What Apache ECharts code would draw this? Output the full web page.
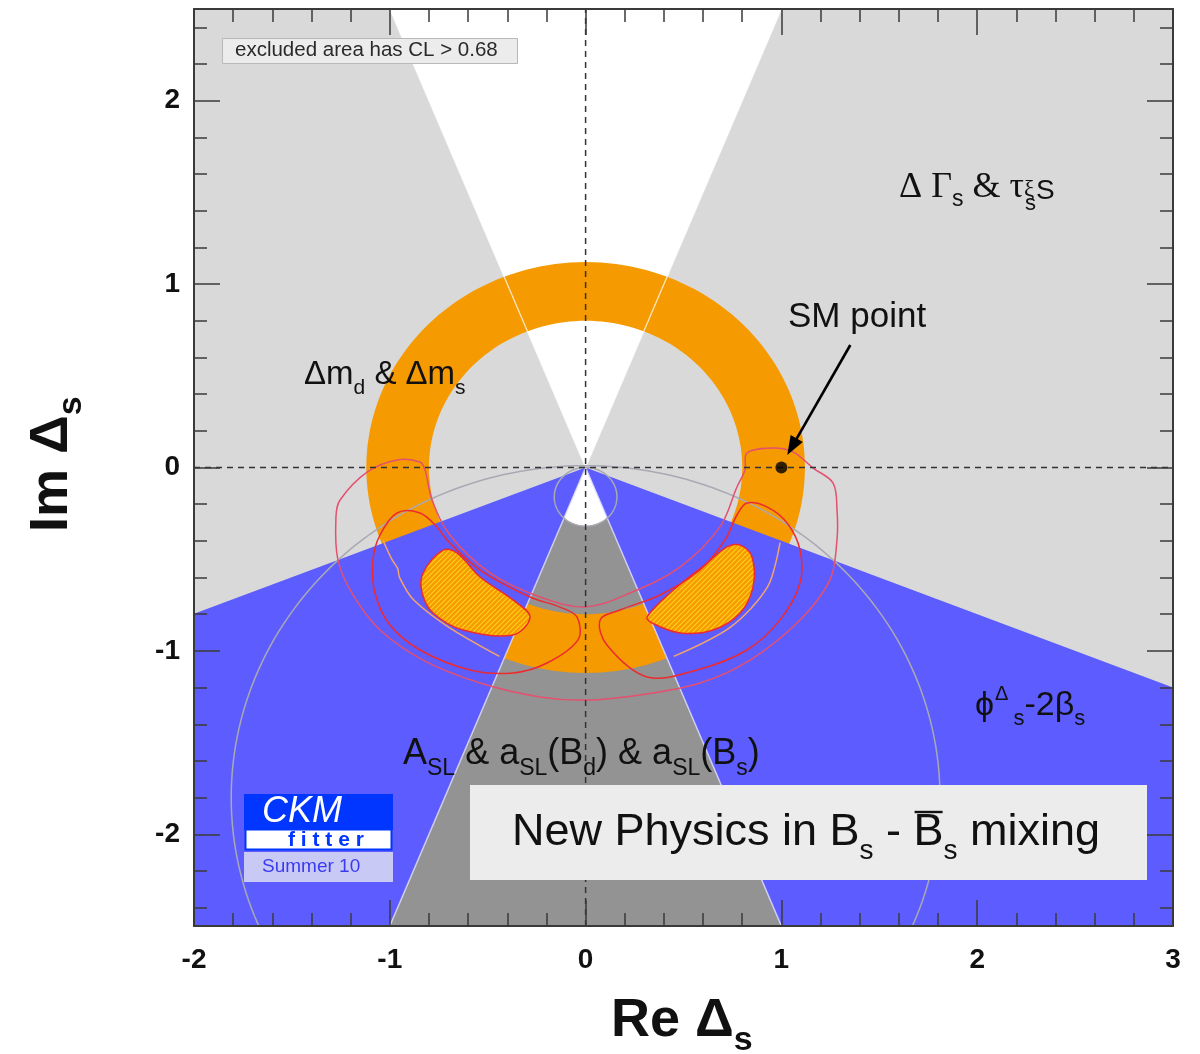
<!DOCTYPE html>
<html>
<head>
<meta charset="utf-8">
<script src="https://cdn.jsdelivr.net/npm/echarts@6/dist/echarts.min.js"></script>
<style>
  html, body { margin: 0; padding: 0; background: #ffffff; }
  #chart { width: 1200px; height: 1054px; }
</style>
</head>
<body>
<div id="chart"></div>
<script>
// ---- axes ----
const xRange = [-2, 3];
const yRange = [-2.5, 2.5];
const xTickLabels = ['-2', '-1', '0', '1', '2', '3'];
const yMajorTicks = [-2, -1, 0, 1, 2];
const yMinorTicks = [-2.4, -2.2, -1.8, -1.6, -1.4, -1.2, -0.8, -0.6, -0.4, -0.2,
  0.2, 0.4, 0.6, 0.8, 1.2, 1.4, 1.6, 1.8, 2.2, 2.4];

// ---- ΔΓs & τ : allowed double cone (white upper part, dark lower part) ----
const coneUpper = [[0, 0], [-1.0, 2.5], [1.0, 2.5]];
const coneLower = [[0, 0], [-1.0, -2.5], [1.0, -2.5]];
const coneLowerOpen = [[0, 0], [-0.108, -0.27], [-0.06, -0.305], [0, -0.318], [0.06, -0.305], [0.108, -0.27]];

// ---- φΔs - 2βs : excluded wedges ----
const phiLeft = [[0, 0], [-2, -0.797], [-2, -2.5], [-1.0, -2.5]];
const phiRight = [[0, 0], [1.0, -2.5], [3, -2.5], [3, -1.2]];

// ---- Δmd & Δms : allowed ring (center, inner / outer radius) ----
const ringCenter = [0, 0];
const ringRadii = [0.80, 1.12];

// ---- thin reference circles (center x, center y, radius) ----
const bigCircle = [0, -1.80, 1.81];
const smallCircle = [0, -0.16, 0.16];

// ---- combined fit : 68% CL islands ----
const islandLeft = [[-0.728, -0.450], [-0.830, -0.575], [-0.835, -0.684], [-0.779, -0.793], [-0.626, -0.886],
  [-0.371, -0.913], [-0.284, -0.815], [-0.371, -0.722], [-0.539, -0.597], [-0.657, -0.466]];
const islandRight = [[0.789, -0.423], [0.850, -0.488], [0.855, -0.652], [0.789, -0.793], [0.651, -0.886],
  [0.482, -0.902], [0.339, -0.848], [0.314, -0.815], [0.431, -0.684], [0.620, -0.521], [0.722, -0.433]];

// ---- combined fit : outer CL contours ----
const contourOuter = [[-0.963, 0.041], [-1.116, -0.025], [-1.254, -0.177], [-1.275, -0.270], [-1.265, -0.504],
  [-1.188, -0.695], [-1.050, -0.886], [-0.830, -1.050], [-0.539, -1.175], [-0.233, -1.251], [0, -1.268],
  [0.278, -1.240], [0.584, -1.175], [0.840, -1.050], [1.095, -0.831], [1.248, -0.613], [1.284, -0.393],
  [1.284, -0.232], [1.264, -0.085], [1.162, -0.003], [1.059, 0.085], [0.957, 0.106], [0.824, 0.079],
  [0.814, -0.014], [0.773, -0.106], [0.686, -0.324], [0.482, -0.543], [0.227, -0.684], [0, -0.760],
  [-0.233, -0.706], [-0.488, -0.575], [-0.693, -0.368], [-0.784, -0.177], [-0.820, -0.014], [-0.846, 0.030]];
const contourLeft = [[-0.963, -0.248], [-0.846, -0.248], [-0.759, -0.324], [-0.708, -0.395], [-0.539, -0.559],
  [-0.284, -0.706], [-0.131, -0.761], [-0.044, -0.815], [-0.039, -0.940], [-0.197, -1.066], [-0.371, -1.120],
  [-0.590, -1.104], [-0.846, -0.995], [-0.999, -0.859], [-1.076, -0.684], [-1.086, -0.504], [-1.050, -0.368]];
const contourRight = [[0.824, -0.194], [0.926, -0.215], [1.029, -0.303], [1.095, -0.450], [1.095, -0.630],
  [0.993, -0.831], [0.824, -0.995], [0.569, -1.104], [0.314, -1.142], [0.109, -0.968], [0.074, -0.831],
  [0.176, -0.777], [0.380, -0.695], [0.584, -0.559], [0.712, -0.395], [0.773, -0.259]];
const traceLeft = [[-1.035, -0.395], [-0.99, -0.50], [-0.96, -0.55], [-0.95, -0.60], [-0.88, -0.72],
  [-0.70, -0.87], [-0.44, -1.03]];
const traceRight = [[0.993, -0.41], [0.93, -0.65], [0.74, -0.87], [0.45, -1.03]];

// ---- SM point ----
const smPoint = [[1, 0]];
const smArrow = [[1.352, 0.668], [1.030, 0.068]];

const C = {
  lightGray: '#d9d9d9',
  darkGray: '#939393',
  blue: '#5c5cff',
  orange: '#f59a00',
  hatch: '#ffd21a',
  pink: '#e4506e',
  red: '#ec2a30',
  peach: '#f2a46c',
  circle: '#a9a9b4',
  axis: '#3a3a3a',
  text: '#111111'
};

// diagonal hatching used on the 68% islands
function hatchPattern() {
  const c = document.createElement('canvas');
  c.width = 5; c.height = 5;
  const g = c.getContext('2d');
  g.fillStyle = C.orange; g.fillRect(0, 0, 5, 5);
  g.strokeStyle = C.hatch; g.lineWidth = 1.2;
  g.beginPath();
  g.moveTo(-1, 6); g.lineTo(6, -1);
  g.moveTo(-3.5, 3.5); g.lineTo(3.5, -3.5);
  g.moveTo(1.5, 8.5); g.lineTo(8.5, 1.5);
  g.stroke();
  return { image: c, repeat: 'repeat' };
}

function clipOf(params) {
  const cs = params.coordSys;
  return { type: 'rect', shape: { x: cs.x, y: cs.y, width: cs.width, height: cs.height } };
}

// filled / stroked polygon through the cartesian scales
function polygonSeries(pts, style, z, closed, smooth) {
  return {
    type: 'custom', coordinateSystem: 'cartesian2d', data: pts, z: z, silent: true,
    encode: { x: 0, y: 1 },
    renderItem: function (params, api) {
      if (params.dataIndex !== 0) return;
      const p = pts.map(function (d) { return api.coord(d); });
      return {
        type: closed === false ? 'polyline' : 'polygon',
        shape: { points: p, smooth: smooth || 0 },
        style: style, clipPath: clipOf(params)
      };
    }
  };
}

function ellipsePoints(api, cx, cy, r, n) {
  const out = [];
  for (let i = 0; i <= n; i++) {
    const a = 2 * Math.PI * i / n;
    out.push(api.coord([cx + r * Math.cos(a), cy + r * Math.sin(a)]));
  }
  return out;
}

function ringSeries(z) {
  return {
    type: 'custom', coordinateSystem: 'cartesian2d', data: [ringCenter], z: z, silent: true,
    renderItem: function (params, api) {
      const outer = ellipsePoints(api, ringCenter[0], ringCenter[1], ringRadii[1], 180);
      const inner = ellipsePoints(api, ringCenter[0], ringCenter[1], ringRadii[0], 180).reverse();
      const path = function (pp) {
        return 'M' + pp.map(function (q) { return q[0].toFixed(2) + ' ' + q[1].toFixed(2); }).join(' L') + ' Z ';
      };
      return {
        type: 'path', shape: { pathData: path(outer) + path(inner) },
        style: { fill: C.orange, stroke: null }, clipPath: clipOf(params)
      };
    }
  };
}

function circleSeries(circ, style, z) {
  return {
    type: 'custom', coordinateSystem: 'cartesian2d', data: [[circ[0], circ[1]]], z: z, silent: true,
    renderItem: function (params, api) {
      return {
        type: 'polyline', shape: { points: ellipsePoints(api, circ[0], circ[1], circ[2], 240) },
        style: style, clipPath: clipOf(params)
      };
    }
  };
}

function edgeSeries(a, b, style, z) {
  return polygonSeries([a, b], style, z, false, 0);
}

// arrow pointing at the SM point
function arrowSeries(z) {
  return {
    type: 'custom', coordinateSystem: 'cartesian2d', data: smArrow, z: z, silent: true,
    renderItem: function (params, api) {
      if (params.dataIndex !== 0) return;
      const a = api.coord(smArrow[0]), b = api.coord(smArrow[1]);
      const ang = Math.atan2(b[1] - a[1], b[0] - a[0]);
      const L = 19, W = 7;
      const base = [b[0] - L * Math.cos(ang), b[1] - L * Math.sin(ang)];
      const n = [-Math.sin(ang), Math.cos(ang)];
      return {
        type: 'group', children: [
          { type: 'line', shape: { x1: a[0], y1: a[1], x2: base[0] + 3 * Math.cos(ang), y2: base[1] + 3 * Math.sin(ang) },
            style: { stroke: '#000', lineWidth: 2.6 } },
          { type: 'polygon', shape: { points: [b, [base[0] + n[0] * W, base[1] + n[1] * W], [base[0] - n[0] * W, base[1] - n[1] * W]] },
            style: { fill: '#000' } }
        ]
      };
    }
  };
}

// ---- text runs (for sub/superscripts) ----
const measureCtx = document.createElement('canvas').getContext('2d');
function runs(x0, base, parts, common, z) {
  const els = [];
  let x = x0;
  parts.forEach(function (p) {
    const size = p.size || common.size;
    const fam = p.family || common.family;
    const wt = p.weight || common.weight || 'normal';
    const st = p.style || common.style || 'normal';
    const font = st + ' ' + wt + ' ' + size + 'px ' + fam;
    measureCtx.font = font;
    const w = measureCtx.measureText(p.t).width;
    els.push({
      type: 'text', x: x + (p.dx || 0), y: base + (p.dy || 0) - 0.36 * size, z: z || 100,
      style: { text: p.t, font: font, fill: p.color || common.color, align: 'left', verticalAlign: 'middle' }
    });
    if (!p.keep) x += w + (p.dx || 0);
  });
  return els;
}

const SANS = '"Liberation Sans", Arial, sans-serif';
const SERIF = '"Liberation Serif", "Times New Roman", serif';
const txt = { size: 34, family: SANS, color: C.text };

const graphics = [];
// legend note
graphics.push({ type: 'rect', z: 90, shape: { x: 222.5, y: 38.5, width: 295, height: 25 },
  style: { fill: '#ececec', stroke: '#b8b8b8', lineWidth: 1 } });
graphics.push(...runs(235, 58, [{ t: 'excluded area has CL > 0.68' }], { size: 20.5, family: SANS, color: '#2a2a2a' }));

// constraint labels
graphics.push(...runs(899, 201, [
  { t: 'Δ Γ', size: 36, family: SERIF },
  { t: 's', size: 23, dy: 7 },
  { t: ' & τ', size: 36, family: SERIF },
  { t: 'ξ', size: 23, dy: -3, family: SERIF, keep: true },
  { t: 's', size: 22, dy: 11, dx: 1 },
  { t: 'S', size: 28, dx: 0 }
], txt));
graphics.push(...runs(788, 330, [{ t: 'SM point', size: 35 }], txt));
graphics.push(...runs(304, 387, [
  { t: 'Δm', size: 33 }, { t: 'd', size: 21, dy: 9 }, { t: ' & Δm', size: 33 }, { t: 's', size: 21, dy: 9 }
], txt));
graphics.push(...runs(975, 718, [
  { t: 'ϕ' }, { t: 'Δ', size: 20, dy: -16, dx: 1 }, { t: ' ', size: 18 }, { t: 's', size: 22, dy: 9 },
  { t: '-2β' }, { t: 's', size: 22, dy: 9 }
], txt));
graphics.push(...runs(403, 767, [
  { t: 'A', size: 36 }, { t: 'SL', size: 23, dy: 10 }, { t: ' & a', size: 36 }, { t: 'SL', size: 23, dy: 10 },
  { t: '(B', size: 36 }, { t: 'd', size: 23, dy: 10 }, { t: ') & a', size: 36 }, { t: 'SL', size: 23, dy: 10 },
  { t: '(B', size: 36 }, { t: 's', size: 23, dy: 10 }, { t: ')', size: 36 }
], txt));

// title box
graphics.push({ type: 'rect', z: 90, shape: { x: 470, y: 785, width: 677, height: 95 },
  style: { fill: '#ececec', stroke: null } });
(function () {
  const parts = [
    { t: 'New Physics in B', size: 45 }, { t: 's', size: 28, dy: 12 }, { t: ' - B', size: 45 },
    { t: 's', size: 28, dy: 12 }, { t: ' mixing', size: 45 }
  ];
  const els = runs(512, 849, parts, txt, 95);
  graphics.push(...els);
  // bar over the second B
  measureCtx.font = 'normal normal 45px ' + SANS;
  const bx = els[2].x + measureCtx.measureText(' - ').width;
  const bw = measureCtx.measureText('B').width;
  graphics.push({ type: 'line', z: 95, shape: { x1: bx + 1, y1: 812, x2: bx + bw - 1, y2: 812 },
    style: { stroke: C.text, lineWidth: 2.4 } });
})();

// logo
graphics.push({ type: 'rect', z: 90, shape: { x: 244, y: 794, width: 149, height: 36 }, style: { fill: '#0036ff' } });
graphics.push({ type: 'rect', z: 90, shape: { x: 245.5, y: 829.5, width: 146, height: 20 },
  style: { fill: '#ffffff', stroke: '#0036ff', lineWidth: 2 } });
graphics.push({ type: 'rect', z: 90, shape: { x: 244, y: 852, width: 149, height: 30 }, style: { fill: '#c9c9f6' } });
graphics.push(...runs(262, 825, [{ t: 'CKM', size: 36, style: 'italic' }], { family: SANS, color: '#ffffff' }, 95));
graphics.push(...runs(288, 848, [{ t: 'f i t t e r', size: 21, weight: 'bold' }], { family: SANS, color: '#0036ff' }, 95));
graphics.push(...runs(262, 874, [{ t: 'Summer 10', size: 19 }], { family: SANS, color: '#3a3af0' }, 95));

// axis titles
graphics.push(...runs(611, 1041, [
  { t: 'Re Δ', size: 54, weight: 'bold' }, { t: 's', size: 34, weight: 'bold', dy: 12 }
], { family: SANS, color: C.text }));
graphics.push({
  type: 'group', x: 72, y: 532, rotation: Math.PI / 2,
  children: runs(0, 0, [
    { t: 'Im Δ', size: 54, weight: 'bold' }, { t: 's', size: 34, weight: 'bold', dy: 12 }
  ], { family: SANS, color: C.text })
});

const tickStyle = { color: C.axis, width: 1.5 };
const labelStyle = { fontSize: 28, fontWeight: 'bold', fontFamily: SANS, color: C.text };
const AXIS_Z = 30;

function xAxisDef(pos, labels) {
  return {
    type: 'value', position: pos, min: xRange[0], max: xRange[1], interval: 1, z: AXIS_Z,
    axisLine: { show: true, onZero: false, lineStyle: { color: C.axis, width: 2 } },
    axisTick: { show: true, inside: true, length: 26, lineStyle: tickStyle },
    minorTick: { show: true, splitNumber: 5, length: 13, lineStyle: tickStyle },
    splitLine: { show: false }, minorSplitLine: { show: false },
    axisLabel: labels ? Object.assign({ show: true, margin: 20,
      formatter: function (v) { return xTickLabels[Math.round(v - xRange[0])]; } }, labelStyle) : { show: false }
  };
}
function yAxisDef(pos, ticks, len, labels, line) {
  return {
    type: 'value', position: pos, min: yRange[0], max: yRange[1], z: AXIS_Z,
    axisLine: { show: line, onZero: false, lineStyle: { color: C.axis, width: 2 } },
    axisTick: { show: true, inside: true, length: len, customValues: ticks, lineStyle: tickStyle },
    minorTick: { show: false },
    splitLine: { show: false }, minorSplitLine: { show: false },
    axisLabel: labels ? Object.assign({ show: true, margin: 14, customValues: ticks,
      formatter: function (v) { return String(v); } }, labelStyle) : { show: false }
  };
}

const SMOOTH = 0.35;
const option = {
  animation: false,
  backgroundColor: '#ffffff',
  grid: { left: 194, top: 9, right: 27, bottom: 128, show: true, backgroundColor: C.lightGray, borderWidth: 0 },
  xAxis: [xAxisDef('bottom', true), xAxisDef('top', false)],
  yAxis: [
    yAxisDef('left', yMajorTicks, 26, true, true),
    yAxisDef('left', yMinorTicks, 13, false, false),
    yAxisDef('right', yMajorTicks, 26, false, true),
    yAxisDef('right', yMinorTicks, 13, false, false)
  ],
  graphic: graphics,
  series: [
    polygonSeries(coneUpper, { fill: '#ffffff' }, 1),
    polygonSeries(coneLower, { fill: C.darkGray }, 1),
    polygonSeries(coneLowerOpen, { fill: '#ffffff' }, 1, true, 0.3),
    ringSeries(2),
    polygonSeries(phiLeft, { fill: C.blue }, 3),
    polygonSeries(phiRight, { fill: C.blue }, 3),
    edgeSeries(coneUpper[0], coneUpper[1], { stroke: 'rgba(255,255,255,0.75)', lineWidth: 1.3, fill: null }, 4),
    edgeSeries(coneUpper[0], coneUpper[2], { stroke: 'rgba(255,255,255,0.75)', lineWidth: 1.3, fill: null }, 4),
    edgeSeries(coneLower[0], coneLower[1], { stroke: 'rgba(225,225,255,0.8)', lineWidth: 1.5, fill: null }, 4),
    edgeSeries(coneLower[0], coneLower[2], { stroke: 'rgba(225,225,255,0.8)', lineWidth: 1.5, fill: null }, 4),
    circleSeries(bigCircle, { stroke: C.circle, lineWidth: 1.5, fill: null }, 5),
    circleSeries(smallCircle, { stroke: C.circle, lineWidth: 1.5, fill: null }, 5),
    polygonSeries(traceLeft, { stroke: C.peach, lineWidth: 1.5, fill: null }, 6, false, 0.3),
    polygonSeries(traceRight, { stroke: C.peach, lineWidth: 1.5, fill: null }, 6, false, 0.3),
    polygonSeries(islandLeft, { fill: hatchPattern(), stroke: C.red, lineWidth: 1.5 }, 7, true, SMOOTH),
    polygonSeries(islandRight, { fill: hatchPattern(), stroke: C.red, lineWidth: 1.5 }, 7, true, SMOOTH),
    polygonSeries(contourOuter, { fill: null, stroke: C.pink, lineWidth: 1.5 }, 8, true, SMOOTH),
    polygonSeries(contourLeft, { fill: null, stroke: C.red, lineWidth: 1.5 }, 8, true, SMOOTH),
    polygonSeries(contourRight, { fill: null, stroke: C.red, lineWidth: 1.5 }, 8, true, SMOOTH),
    {
      type: 'line', data: [[0, yRange[0]], [0, yRange[1]]], z: 9, symbol: 'none', silent: true,
      lineStyle: { color: '#333', width: 1.5, type: [6, 5] }
    },
    {
      type: 'line', data: [[xRange[0], 0], [xRange[1], 0]], z: 9, symbol: 'none', silent: true,
      lineStyle: { color: '#333', width: 1.5, type: [6, 5] }
    },
    arrowSeries(10),
    {
      type: 'scatter', data: smPoint, z: 11, symbol: 'circle', symbolSize: 12, silent: true,
      itemStyle: { color: '#000' }
    }
  ]
};

const chart = echarts.init(document.getElementById('chart'), null, { renderer: 'canvas' });
chart.setOption(option);
</script>
</body>
</html>
